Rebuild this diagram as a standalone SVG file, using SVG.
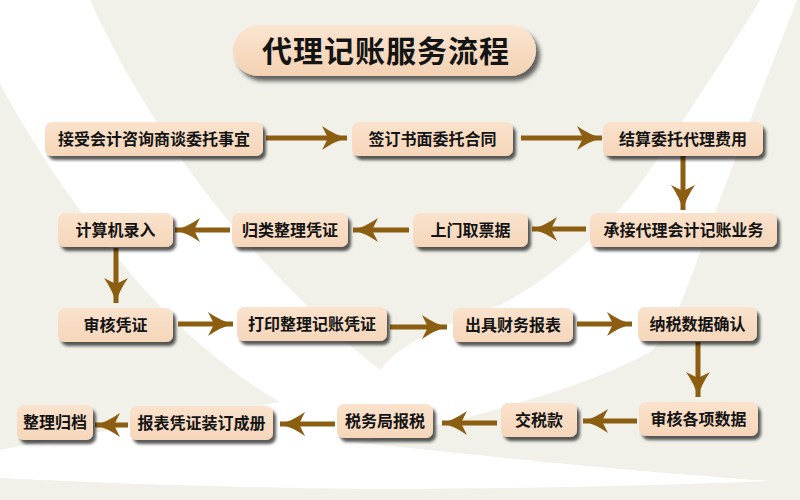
<svg xmlns="http://www.w3.org/2000/svg" width="800" height="500" viewBox="0 0 800 500">
  <defs>
    <linearGradient id="nodeFill" x1="0" y1="0" x2="0" y2="1">
      <stop offset="0" stop-color="#fae2cc"/>
      <stop offset="1" stop-color="#f5d6ba"/>
    </linearGradient>
    <linearGradient id="titleFill" x1="0" y1="0" x2="0" y2="1">
      <stop offset="0" stop-color="#fbe5d1"/>
      <stop offset="1" stop-color="#f3d2b3"/>
    </linearGradient>
    <filter id="shadow" x="-20%" y="-40%" width="140%" height="190%">
      <feDropShadow dx="3" dy="4" stdDeviation="1.8" flood-color="#000" flood-opacity="0.65"/>
    </filter>
    <filter id="titleShadow" x="-20%" y="-40%" width="140%" height="190%">
      <feDropShadow dx="4" dy="5" stdDeviation="2.2" flood-color="#000" flood-opacity="0.6"/>
    </filter>
    <marker id="head" viewBox="-26 -13 27 26" markerWidth="27" markerHeight="26" refX="0" refY="0" orient="auto" markerUnits="userSpaceOnUse">
      <path d="M0,0 Q-12,-3 -25,-12 L-19,0 L-25,12 Q-12,3 0,0 Z" fill="#8b5e12"/>
    </marker>
  </defs>
  <style>
    .node rect { fill: url(#nodeFill); filter: url(#shadow); }
    .node text { font-family: "Noto Sans CJK SC", "Noto Sans", sans-serif; font-weight: 700; font-size: 16px; fill: #141414; text-anchor: middle; }
    .conn line { stroke: #8b5e12; stroke-width: 5; marker-end: url(#head); }
  </style>

  <!-- background -->
  <rect x="0" y="0" width="800" height="500" fill="#ffffff"/>
  <g id="background" fill="#f1f1ea">
    <path d="M90,0 C140,110 230,250 380,370 C400,345 430,330 500,305 C560,275 620,215 650,170 C690,110 730,50 760,0 Z"/>
    <path d="M0,83 C40,160 110,260 187,333 C220,362 250,385 280,402 C190,418 90,432 0,450 Z"/>
    <path d="M797,0 C770,70 730,170 690,280 C675,320 660,345 650,352 C600,380 520,405 417,430 C390,436 370,440 357,443 C440,450 560,466 770,481 C600,488 420,490 300,488 C180,486 80,482 0,478 L0,500 L800,500 L800,0 Z"/>
  </g>

  <!-- title -->
  <g id="title">
    <rect x="233" y="25" width="303" height="51" rx="25.5" fill="url(#titleFill)" filter="url(#titleShadow)"/>
    <text x="386" y="62" font-family="Noto Sans CJK SC, Noto Sans, sans-serif" font-weight="700" font-size="30" letter-spacing="1" fill="#141414" text-anchor="middle">代理记账服务流程</text>
  </g>

  <!-- connectors -->
  <g id="connectors" class="conn">
    <line x1="266" y1="138" x2="347" y2="138"/>
    <line x1="521" y1="138" x2="602" y2="138"/>
    <line x1="683" y1="156" x2="683" y2="210"/>
    <line x1="586" y1="229" x2="532" y2="229"/>
    <line x1="409" y1="230" x2="353" y2="230"/>
    <line x1="230" y1="230" x2="175" y2="230"/>
    <line x1="116" y1="248" x2="116" y2="303"/>
    <line x1="178" y1="324" x2="233" y2="324"/>
    <line x1="390" y1="327" x2="447" y2="327"/>
    <line x1="577" y1="324" x2="632" y2="324"/>
    <line x1="698" y1="342" x2="698" y2="397"/>
    <line x1="637" y1="421" x2="583" y2="421"/>
    <line x1="497" y1="423" x2="442" y2="423"/>
    <line x1="335" y1="424" x2="280" y2="424"/>
    <line x1="128" y1="425" x2="95" y2="425"/>
  </g>

  <!-- nodes -->
  <g id="n1" class="node"><rect x="45" y="122" width="218" height="34" rx="7"/><text x="154" y="145">接受会计咨询商谈委托事宜</text></g>
  <g id="n2" class="node"><rect x="352" y="122" width="161" height="34" rx="7"/><text x="432.5" y="145">签订书面委托合同</text></g>
  <g id="n3" class="node"><rect x="603" y="122" width="160" height="34" rx="7"/><text x="683" y="145">结算委托代理费用</text></g>
  <g id="n4" class="node"><rect x="590" y="213" width="187" height="34" rx="7"/><text x="683.5" y="236">承接代理会计记账业务</text></g>
  <g id="n5" class="node"><rect x="413" y="213" width="115" height="34" rx="7"/><text x="470.5" y="236">上门取票据</text></g>
  <g id="n6" class="node"><rect x="232" y="213" width="116" height="34" rx="7"/><text x="290" y="236">归类整理凭证</text></g>
  <g id="n7" class="node"><rect x="58" y="213" width="115" height="34" rx="7"/><text x="115.5" y="236">计算机录入</text></g>
  <g id="n8" class="node"><rect x="58" y="308" width="115" height="34" rx="7"/><text x="115.5" y="331">审核凭证</text></g>
  <g id="n9" class="node"><rect x="237" y="307" width="150" height="34" rx="7"/><text x="312" y="330">打印整理记账凭证</text></g>
  <g id="n10" class="node"><rect x="453" y="308" width="120" height="34" rx="7"/><text x="513" y="331">出具财务报表</text></g>
  <g id="n11" class="node"><rect x="638" y="307" width="119" height="34" rx="7"/><text x="697.5" y="330">纳税数据确认</text></g>
  <g id="n12" class="node"><rect x="639" y="402" width="119" height="34" rx="7"/><text x="698.5" y="425">审核各项数据</text></g>
  <g id="n13" class="node"><rect x="501" y="403" width="76" height="34" rx="7"/><text x="539" y="426">交税款</text></g>
  <g id="n14" class="node"><rect x="337" y="404" width="96" height="34" rx="7"/><text x="385" y="427">税务局报税</text></g>
  <g id="n15" class="node"><rect x="130" y="406" width="143" height="34" rx="7"/><text x="201.5" y="429">报表凭证装订成册</text></g>
  <g id="n16" class="node"><rect x="17" y="405" width="76" height="35" rx="7"/><text x="55" y="428">整理归档</text></g>
</svg>
